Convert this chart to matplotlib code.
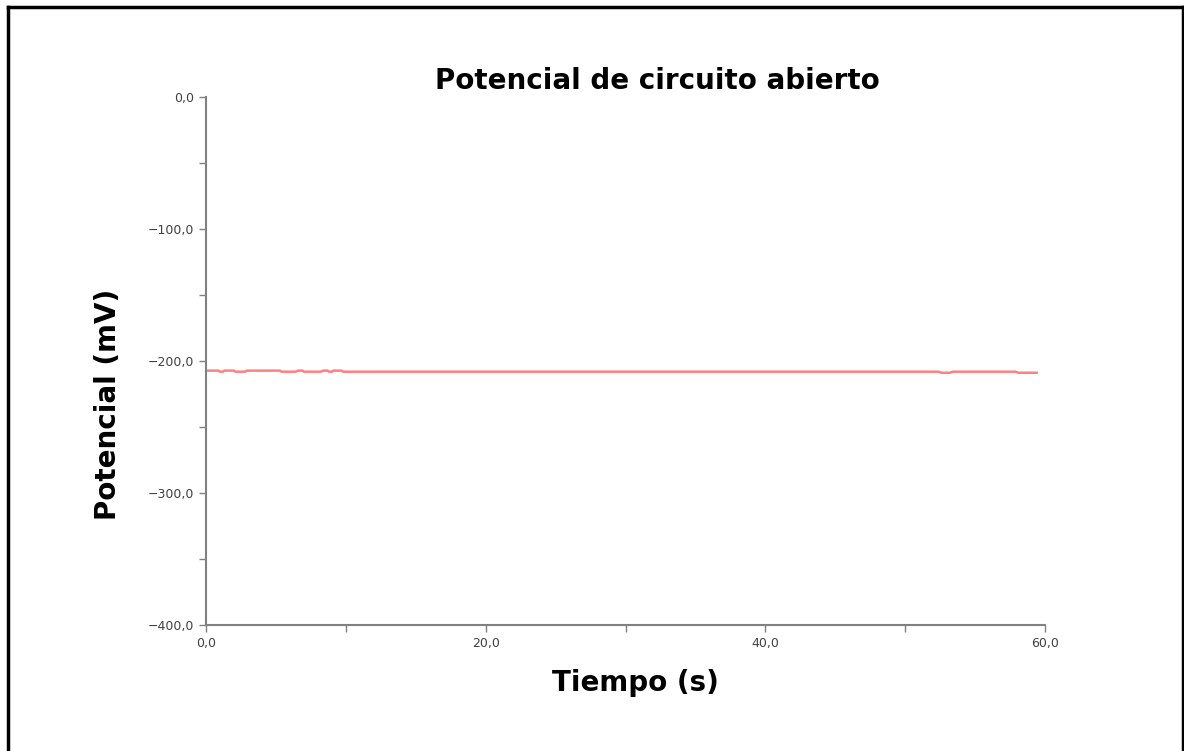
import matplotlib
matplotlib.use("Agg")
import matplotlib.pyplot as plt
from matplotlib.lines import Line2D
from matplotlib.ticker import MultipleLocator, FuncFormatter

# data (time in s, potential in mV)
tiempo = [0.0, 0.9, 1.0, 1.2, 1.3, 2.0, 2.1, 2.8, 2.9, 5.3, 5.4, 6.4, 6.6,
          6.9, 7.0, 8.2, 8.4, 8.7, 8.8, 9.0, 9.1, 9.7, 9.8, 52.4, 52.6,
          53.2, 53.4, 57.9, 58.1, 59.4]
potencial = [-207.3, -207.3, -208.1, -208.1, -207.3, -207.3, -208.1, -208.1,
             -207.3, -207.3, -208.1, -208.1, -207.3, -207.3, -208.1, -208.1,
             -207.3, -207.3, -208.1, -208.1, -207.3, -207.3, -208.1, -208.1,
             -208.9, -208.9, -208.1, -208.1, -208.9, -208.9]

titulo = "Potencial de circuito abierto"
x_label = "Tiempo (s)"
y_label = "Potencial (mV)"

fig = plt.figure(figsize=(11.84, 7.51), dpi=100)
ax = fig.add_axes([206/1184, 1 - 625/751, (1045 - 206)/1184, (625 - 97)/751])

ax.plot(tiempo, potencial, color="#ff8080", lw=1.8)

ax.set_xlim(0, 60)
ax.set_ylim(-400, 0)

def coma(v, pos):
    s = f"{v:.1f}".replace(".", ",")
    return s.replace("-", "\u2212")

ax.xaxis.set_major_locator(MultipleLocator(20))
ax.xaxis.set_minor_locator(MultipleLocator(10))
ax.yaxis.set_major_locator(MultipleLocator(100))
ax.yaxis.set_minor_locator(MultipleLocator(50))
ax.xaxis.set_major_formatter(FuncFormatter(coma))
ax.yaxis.set_major_formatter(FuncFormatter(coma))

for s in ["top", "right"]:
    ax.spines[s].set_visible(False)
for s in ["left", "bottom"]:
    ax.spines[s].set_color("#808080")
    ax.spines[s].set_linewidth(1.5)

ax.tick_params(which="both", direction="out", color="#808080", width=1,
               labelsize=9, labelcolor="#404040")
ax.tick_params(which="major", length=5)
ax.tick_params(which="minor", length=5)

fig.text(657/1184, 1 - 81/751, titulo, ha="center", va="center",
         fontsize=20, fontweight="bold", family="DejaVu Sans")
fig.text(635/1184, 1 - 683/751, x_label, ha="center", va="center",
         fontsize=20, fontweight="bold", family="DejaVu Sans")
fig.text(108/1184, 1 - 404/751, y_label, ha="center", va="center",
         rotation=90, fontsize=20, fontweight="bold", family="DejaVu Sans")

# black frame around the picture (no bottom edge)
frame = dict(color="black", lw=2.5, transform=fig.transFigure, figure=fig)
fig.lines.append(Line2D([7.5/1184, 7.5/1184], [0, 1 - 6.5/751], **frame))
fig.lines.append(Line2D([7.5/1184, 1182.5/1184], [1 - 6.5/751, 1 - 6.5/751], **frame))
fig.lines.append(Line2D([1182.5/1184, 1182.5/1184], [0, 1 - 6.5/751], **frame))

fig.savefig("out.png", dpi=100, facecolor="white")
